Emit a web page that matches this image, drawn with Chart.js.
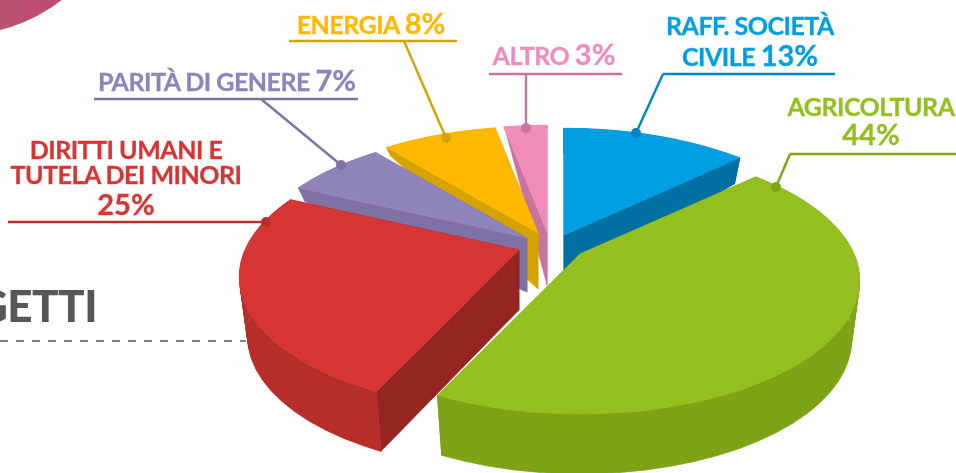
<!DOCTYPE html>
<html lang="it">
<head>
  <meta charset="UTF-8">
  <title>Progetti per settore</title>
  <script src="https://cdn.jsdelivr.net/npm/chart.js"></script>
  <style>
    html, body { margin: 0; padding: 0; background: #fff; }
    #wrap { position: relative; width: 956px; height: 473px; overflow: hidden; font-family: Lato, sans-serif; font-weight: 700; }
    canvas { position: absolute; left: 0; top: 0; }
    .lbl { position: absolute; white-space: nowrap; text-align: center; line-height: 1; transform: translateX(-50%); -webkit-text-stroke: 0.3px currentColor; }
    .lbl b { font-weight: 700; font-size: 29px; letter-spacing: 0; }
    .lbl div { font-size: 25px; letter-spacing: -0.5px; }
    #getti { position: absolute; right: 859px; top: 283px; font-size: 44px; font-weight: 900; color: #575756; line-height: 1; letter-spacing: -0.5px; }
  </style>
</head>
<body>
<div id="wrap">
  <canvas id="pie" width="956" height="473"></canvas>
  <div id="getti">GETTI</div>
  <div class="lbl" style="left:371px;top:8px;color:#fdb900"><div>ENERGIA <b>8%</b></div></div>
  <div class="lbl" style="left:227px;top:65px;color:#8f83bb"><div>PARITÀ DI GENERE <b>7%</b></div></div>
  <div class="lbl" style="left:126px;top:137px;color:#d73533"><div style="line-height:25px">DIRITTI UMANI E<br>TUTELA DEI MINORI<br><b style="position:relative;top:4px">25%</b></div></div>
  <div class="lbl" style="left:554px;top:39px;color:#f08cba"><div>ALTRO <b>3%</b></div></div>
  <div class="lbl" style="left:750px;top:10px;color:#009fe3"><div style="line-height:30px">RAFF. SOCIETÀ<br>CIVILE <b>13%</b></div></div>
  <div class="lbl" style="left:871px;top:92px;color:#93c01f"><div style="line-height:29px">AGRICOLTURA<br><b style="position:relative;top:-2px">44%</b></div></div>
</div>
<script>
  // Dati
  const categories = ["Raff. società civile", "Agricoltura", "Diritti umani e tutela dei minori", "Parità di genere", "Energia", "Altro"];
  const values = [13, 44, 25, 7, 8, 3];

  // Colori: faccia superiore, parete esterna, parete di taglio
  const topColors = ["#009fe3", "#93c01f", "#d73533", "#8f83bb", "#fdb900", "#f08cba"];
  const rimColors = ["#006fa2", "#7fa317", "#b52e2a", "#7e72a4", "#d6a200", "#c9749e"];
  const cutColors = ["#006fa2", "#7fa317", "#95251f", "#7e72a4", "#d6a200", "#c9749e"];

  // Vista prospettica del disco
  const view = { cx: 550, cy: 250, rx: 274, ry: 128, t: 0.2, taper: 0.97 };
  // Spostamento di ogni fetta rispetto al centro e altezza della parete (vertice, bordo)
  const explode = [[14, -15], [30, 4], [-31, 0], [-23, -12], [-12, -17], [-3, -18]];
  const wall = [[50, 26], [60, 60], [60, 60], [54, 14], [56, 9], [53, 3]];
  // Ordine di disegno, dal fondo verso il davanti
  const drawOrder = [5, 0, 4, 3, 2, 1];

  // Etichette: linea orizzontale, poi richiamo fino al pallino
  const leaders = [
    { color: "#d6a200", pts: [[289, 41], [457, 41]], stem: [[404, 41], [446, 138]] },
    { color: "#7e72a4", pts: [[94, 99], [358, 99]], stem: [[261, 99], [341, 165]] },
    { color: "#b52e2a", pts: [[8, 222], [266, 222]], stem: [[266, 222], [266, 222]] },
    { color: "#c9749e", pts: [[489, 74], [622, 74]], stem: [[526, 74], [526, 128]] },
    { color: "#0086c0", pts: [[663, 74], [835, 74]], stem: [[663, 74], [636, 133]] },
    { color: "#7fa317", pts: [[790, 154], [956, 154]], stem: [[790, 154], [776, 187]] }
  ];

  // Punto sulla faccia superiore (a = angolo dell'arco, r = raggio relativo)
  const topPoint = (i, a, r) => {
    const x = r * Math.cos(a), y = -r * Math.sin(a);
    const w = 1 + view.t * y;
    return [view.cx + explode[i][0] + view.rx * x / w, view.cy + explode[i][1] - view.ry * y / w];
  };

  // Punto corrispondente sulla faccia inferiore
  const bottomPoint = (i, a, r) => {
    const p = topPoint(i, a, r);
    const ox = view.cx + explode[i][0];
    return [ox + (p[0] - ox) * view.taper, p[1] + wall[i][0] + (wall[i][1] - wall[i][0]) * r];
  };

  // Riempie uno o piu poligoni con un solo tracciato, senza righe tra uno e l'altro
  const fillPolys = (ctx, polys, color) => {
    ctx.beginPath();
    polys.forEach(pts => {
      pts.forEach((p, k) => k ? ctx.lineTo(p[0], p[1]) : ctx.moveTo(p[0], p[1]));
      ctx.closePath();
    });
    ctx.fillStyle = color;
    ctx.fill();
    ctx.strokeStyle = color;
    ctx.lineWidth = 0.6;
    ctx.stroke();
  };

  // Angoli lungo l'arco di una fetta
  const arcAngles = (start, end) => {
    const n = Math.ceil((end - start) / 0.02);
    const out = [];
    for (let k = 0; k <= n; k++) out.push(start + (end - start) * k / n);
    return out;
  };

  const pie3d = {
    id: "pie3d",
    beforeDraw(chart) {
      const ctx = chart.ctx;
      // Angolo in alto a sinistra e linea tratteggiata
      const g = ctx.createLinearGradient(0, 20, 63, 0);
      g.addColorStop(0, "#b85470");
      g.addColorStop(1, "#c04a72");
      ctx.fillStyle = g;
      ctx.beginPath();
      ctx.arc(-40, -130, 165, 0, Math.PI * 2);
      ctx.fill();
      ctx.save();
      ctx.strokeStyle = "#575756";
      ctx.lineWidth = 1.5;
      ctx.setLineDash([8, 8]);
      ctx.beginPath();
      ctx.moveTo(0, 341);
      ctx.lineTo(246, 341);
      ctx.stroke();
      ctx.restore();
    },
    beforeDatasetsDraw(chart) {
      const ctx = chart.ctx;
      const arcs = chart.getDatasetMeta(0).data;
      drawOrder.forEach(i => {
        const el = arcs[i];
        const angles = arcAngles(el.startAngle, el.endAngle);
        // Pareti di taglio
        [el.startAngle, el.endAngle].forEach(a => {
          fillPolys(ctx, [[topPoint(i, a, 0), topPoint(i, a, 1), bottomPoint(i, a, 1), bottomPoint(i, a, 0)]], cutColors[i]);
        });
        // Parete esterna: profilo dell'arco sopra e sotto, piu il raccordo sui lati
        const top = angles.map(a => topPoint(i, a, 1));
        const bottom = angles.map(a => bottomPoint(i, a, 1));
        const hull = [];
        for (let k = 0; k < top.length; k += 4) {
          hull.push(top[k]);
        }
        hull.push(top[top.length - 1], bottom[bottom.length - 1]);
        for (let k = bottom.length - 1; k >= 0; k -= 4) {
          hull.push(bottom[k]);
        }
        hull.push(bottom[0]);
        ctx.save();
        // il raccordo si ottiene con un tratto largo lungo la retta che unisce i due archi
        ctx.strokeStyle = rimColors[i];
        ctx.lineWidth = 1;
        ctx.beginPath();
        top.forEach((p, k) => {
          ctx.moveTo(p[0], p[1]);
          ctx.lineTo(bottom[k][0], bottom[k][1]);
        });
        ctx.stroke();
        ctx.restore();
        fillPolys(ctx, [hull], rimColors[i]);
        // Faccia superiore
        fillPolys(ctx, [[topPoint(i, 0, 0)].concat(angles.map(a => topPoint(i, a, 1)))], topColors[i]);
      });
      return false;
    },
    afterDraw(chart) {
      const ctx = chart.ctx;
      leaders.forEach(l => {
        ctx.strokeStyle = l.color;
        ctx.lineWidth = 2.4;
        ctx.beginPath();
        ctx.moveTo(l.pts[0][0], l.pts[0][1]);
        ctx.lineTo(l.pts[1][0], l.pts[1][1]);
        ctx.moveTo(l.stem[0][0], l.stem[0][1]);
        ctx.lineTo(l.stem[1][0], l.stem[1][1]);
        ctx.stroke();
        ctx.fillStyle = l.color;
        ctx.beginPath();
        ctx.arc(l.stem[1][0], l.stem[1][1], 5, 0, Math.PI * 2);
        ctx.fill();
      });
    }
  };

  new Chart(document.getElementById("pie"), {
    type: "pie",
    data: {
      labels: categories,
      datasets: [{ data: values, backgroundColor: topColors, borderWidth: 0 }]
    },
    options: {
      responsive: false,
      animation: false,
      plugins: { legend: { display: false }, tooltip: { enabled: false } }
    },
    plugins: [pie3d]
  });
</script>
</body>
</html>
